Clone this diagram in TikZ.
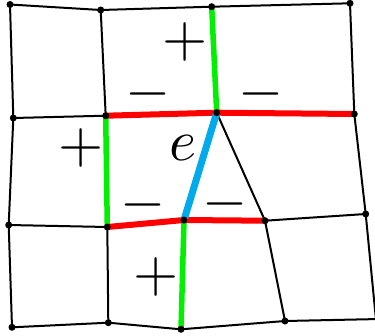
\documentclass[tikz,border=0pt]{standalone}
\definecolor{egreen}{RGB}{0,240,0}
\definecolor{ered}{RGB}{255,0,0}
\definecolor{eblue}{RGB}{0,170,235}
\tikzset{
  mesh/.style={line width=2pt, black},
  gedge/.style={line width=5.5pt, egreen},
  redge/.style={line width=6pt, ered},
  bedge/.style={line width=7pt, eblue},
  vtx/.style={circle, fill=black, inner sep=0pt, minimum size=7pt},
  lbl/.style={inner sep=0pt, scale=5.8}
}
\begin{document}
\begin{tikzpicture}[x=1pt,y=-1pt]
\clip (0,0) rectangle (375,335);
% vertices
\coordinate (P00) at (10,4.5);
\coordinate (P10) at (100.7,10);
\coordinate (P20) at (211.7,6.7);
\coordinate (P30) at (350,3.3);
\coordinate (P01) at (13.3,118);
\coordinate (P11) at (105.7,115.7);
\coordinate (P21) at (216.7,112.7);
\coordinate (P31) at (354.3,114);
\coordinate (P02) at (8.7,225);
\coordinate (P12) at (107.3,227);
\coordinate (P22) at (184,220);
\coordinate (Pm) at (265,220.7);
\coordinate (P32) at (365.7,214);
\coordinate (P03) at (12,327.3);
\coordinate (P13) at (108.3,322.7);
\coordinate (P23) at (181,329.3);
\coordinate (P33) at (285,321);
\coordinate (Rb) at (380,319);
\coordinate (Rv) at (376.5,325);
% black mesh
\draw[mesh] (P00) -- (P10) -- (P20) -- (P30) -- (P31) -- (P32) -- (Rv);
\draw[mesh] (P00) -- (P01) -- (P02) -- (P03) -- (P13) -- (P23) -- (P33) -- (Rb);
\draw[mesh] (P10) -- (P11);
\draw[mesh] (P01) -- (P11);
\draw[mesh] (P02) -- (P12) -- (P13);
\draw[mesh] (P21) -- (Pm) -- (P32);
\draw[mesh] (Pm) -- (P33);
% coloured edges
\draw[gedge] (P20) -- (P21);
\draw[gedge] (P11) -- (P12);
\draw[gedge] (P22) -- (P23);
\draw[redge] (P11) -- (P21) -- (P31);
\draw[redge] (P12) -- (P22) -- (Pm);
\draw[bedge] (P21) -- (P22);
% vertices dots
\foreach \p in {P00,P10,P20,P30,P01,P11,P21,P31,P02,P12,P22,Pm,P32,P03,P13,P23,P33}
  \node[vtx] at (\p) {};
% labels
\node[lbl] (pa) at (185.5,42) {$+$};
\node[lbl] (ma) at (148,94.3) {$-$};
\node[lbl] (mb) at (261,94) {$-$};
\node[lbl] (pb) at (81,147.5) {$+$};
\node[lbl] (e) at (183,148) {$e$};
\node[lbl] (mc) at (143,205.3) {$-$};
\node[lbl] (md) at (225.5,204) {$-$};
\node[lbl] (pc) at (156.5,277) {$+$};
\end{tikzpicture}
\end{document}
